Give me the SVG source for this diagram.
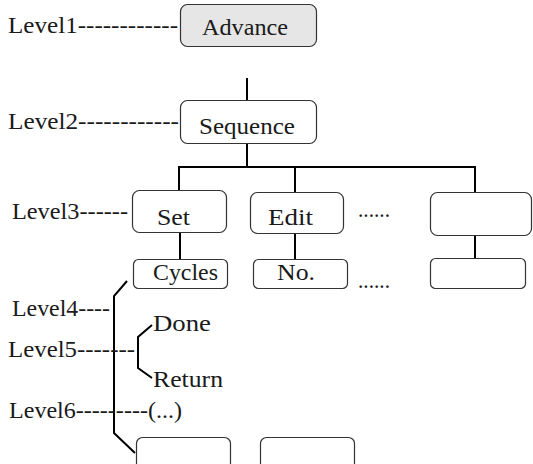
<svg xmlns="http://www.w3.org/2000/svg" width="533" height="464" viewBox="0 0 533 464">
<style>
.box{fill:#ffffff;stroke:#333333;stroke-width:1.2}
.gray{fill:#e6e6e6}
.t{font-family:'Liberation Serif','Times New Roman',Times,serif;font-size:23px;font-weight:normal;fill:#1a1a1a}
.c{fill:none;stroke:#000000;stroke-width:2}
</style>
<rect width="533" height="464" fill="#ffffff"/>
<g id="connectors">
<line class="c" x1="247" y1="78" x2="247" y2="100"/>
<polyline class="c" points="247,144 247,167"/>
<polyline class="c" points="179,190 179,167 475,167 475,192"/>
<line class="c" x1="295" y1="167" x2="295" y2="192"/>
<line class="c" x1="180" y1="233" x2="180" y2="259"/>
<line class="c" x1="295" y1="234" x2="295" y2="259"/>
<line class="c" x1="475" y1="236" x2="475" y2="258"/>
<polyline class="c" points="127,281 114,296 114,433 135,453"/>
<polyline class="c" points="152,325 138,337 138,368 152,378"/>
</g>
<g id="labels">
<text class="t" x="8" y="33" textLength="170" lengthAdjust="spacingAndGlyphs">Level1------------</text>
<text class="t" x="8" y="129" textLength="171" lengthAdjust="spacingAndGlyphs">Level2------------</text>
<text class="t" x="12" y="219" textLength="116" lengthAdjust="spacingAndGlyphs">Level3------</text>
<text class="t" x="12" y="316" textLength="98" lengthAdjust="spacingAndGlyphs">Level4----</text>
<text class="t" x="8" y="357" textLength="127" lengthAdjust="spacingAndGlyphs">Level5-------</text>
<text class="t" x="9" y="418" textLength="173" lengthAdjust="spacingAndGlyphs">Level6---------(...)</text>
<text class="t" x="153" y="331" textLength="58" lengthAdjust="spacingAndGlyphs">Done</text>
<text class="t" x="153" y="387" textLength="70" lengthAdjust="spacingAndGlyphs">Return</text>
<text class="t" x="358" y="217" textLength="32" lengthAdjust="spacingAndGlyphs">......</text>
<text class="t" x="358" y="288" textLength="32" lengthAdjust="spacingAndGlyphs">......</text>
</g>
<g id="advance">
<rect class="box gray" x="180.5" y="4.5" width="136" height="42" rx="7"/>
<text class="t" x="202" y="35" textLength="86" lengthAdjust="spacingAndGlyphs">Advance</text>
</g>
<g id="sequence">
<rect class="box" x="180.5" y="100.5" width="136" height="43" rx="7"/>
<text class="t" x="199" y="134" textLength="96" lengthAdjust="spacingAndGlyphs">Sequence</text>
</g>
<g id="set">
<rect class="box" x="132.5" y="190.5" width="94" height="42" rx="7"/>
<text class="t" x="157" y="225" textLength="33" lengthAdjust="spacingAndGlyphs">Set</text>
</g>
<g id="edit">
<rect class="box" x="250.5" y="192.5" width="93" height="41" rx="7"/>
<text class="t" x="268" y="225" textLength="45" lengthAdjust="spacingAndGlyphs">Edit</text>
</g>
<g id="level3-blank">
<rect class="box" x="430.5" y="192.5" width="101" height="43" rx="7"/>
</g>
<g id="cycles">
<rect class="box" x="133.5" y="259.5" width="94" height="29" rx="5"/>
<text class="t" x="153" y="280" textLength="65" lengthAdjust="spacingAndGlyphs">Cycles</text>
</g>
<g id="no">
<rect class="box" x="253.5" y="259.5" width="94" height="29" rx="5"/>
<text class="t" x="277" y="280" textLength="38" lengthAdjust="spacingAndGlyphs">No.</text>
</g>
<g id="level4-blank">
<rect class="box" x="430.5" y="258.5" width="95" height="30" rx="5"/>
</g>
<g id="bottom1">
<rect class="box" x="136.5" y="437.5" width="94" height="40" rx="6"/>
</g>
<g id="bottom2">
<rect class="box" x="260.5" y="437.5" width="94" height="40" rx="6"/>
</g>
</svg>
